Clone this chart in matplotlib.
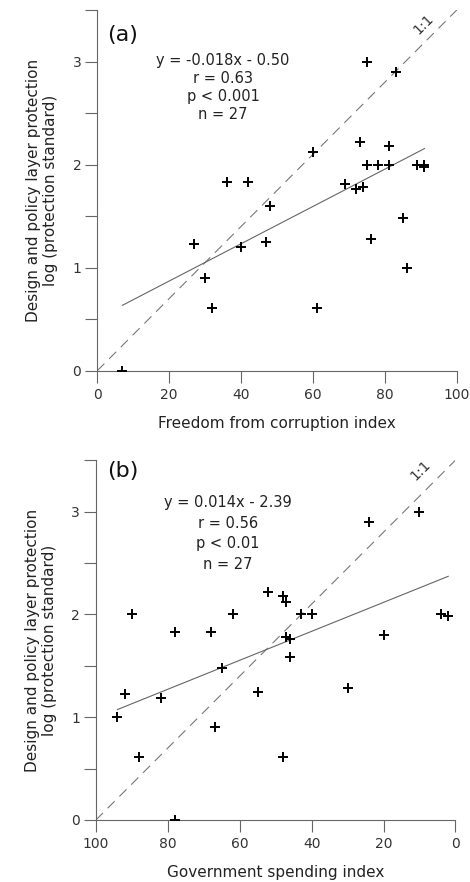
import numpy as np
from matplotlib import pyplot as plt

# panel (a): freedom from corruption index vs log protection standard
corr_x = [75, 83, 60, 73, 81, 75, 78, 81, 89, 91, 91, 36, 42, 69, 72, 74, 48,
          27, 40, 47, 85, 76, 86, 30, 32, 61, 7]
corr_y = [3.0, 2.9, 2.12, 2.22, 2.18, 2.0, 2.0, 2.0, 2.0, 2.0, 1.98, 1.83, 1.83,
          1.81, 1.76, 1.78, 1.6, 1.23, 1.2, 1.25, 1.48, 1.28, 1.0, 0.9, 0.61, 0.61, 0.0]
corr_fit = (0.0181, 0.508)
corr_stats = "y = -0.018x - 0.50\nr = 0.63\np < 0.001\nn = 27"

# panel (b): government spending index vs log protection standard
gov_x = [10, 24, 90, 62, 43, 40, 4, 2, 52, 48, 47, 78, 68, 47, 46, 20, 46, 65,
         92, 82, 55, 30, 94, 67, 88, 48, 78]
gov_y = [3.0, 2.9, 2.0, 2.0, 2.0, 2.0, 2.0, 1.98, 2.22, 2.18, 2.12, 1.83, 1.83,
         1.78, 1.76, 1.8, 1.59, 1.48, 1.23, 1.19, 1.25, 1.28, 1.0, 0.9, 0.61, 0.61, 0.0]
gov_fit = (-0.01409, 2.399)
gov_stats = "y = 0.014x - 2.39\nr = 0.56\np < 0.01\nn = 27"

ylabel = "Design and policy layer protection\nlog (protection standard)"

plt.rcParams['font.family'] = ['DejaVu Sans']

fig = plt.figure(figsize=(4.7, 8.82), dpi=100)
ax_a = fig.add_axes([0.207, 0.5797, 0.765, 0.409])
ax_b = fig.add_axes([0.204, 0.0703, 0.765, 0.4079])

grey = '#666666'


def panel(ax, xs, ys, fit, stats, letter, xlabel, reverse, stats_pos, letter_pos, oneone_pos, spacing):
    ax.set_ylim(0, 3.5)
    if reverse:
        ax.set_xlim(100, 0)
        ax.plot([100, 0], [0, 3.5], color='#777777', lw=0.8, dashes=(9, 6), zorder=1)
    else:
        ax.set_xlim(0, 100)
        ax.plot([0, 100], [0, 3.5], color='#777777', lw=0.8, dashes=(9, 6), zorder=1)
    xs = np.array(xs, dtype=float)
    xx = np.array([xs.min(), xs.max()])
    ax.plot(xx, fit[0] * xx + fit[1], color=grey, lw=0.8, zorder=2)
    ax.plot(xs, ys, '+', color='black', ms=7, mew=1.4, zorder=3)

    for s in ['top', 'right']:
        ax.spines[s].set_visible(False)
    for s in ['left', 'bottom']:
        ax.spines[s].set_color(grey)
        ax.spines[s].set_linewidth(0.8)
    ax.set_xticks(range(0, 101, 20))
    ax.set_yticks([0, 1, 2, 3])
    ax.set_yticks(np.arange(0, 3.51, 0.5), minor=True)
    ax.tick_params(which='both', direction='out', length=8.5, width=0.8, color=grey,
                   labelsize=10, labelcolor='#333333', pad=3)
    ax.tick_params(axis='x', pad=4)
    ax.set_xlabel(xlabel, fontsize=11, color='#222222', va='center')
    ax.xaxis.set_label_coords(0.5, -0.145)
    ax.set_ylabel(ylabel, fontsize=11, color='#222222', va='center', linespacing=1.2)
    ax.yaxis.set_label_coords(-0.153, 0.5)

    ax.text(letter_pos[0], letter_pos[1], letter, fontsize=16, ha='center', va='center', color='#111111')
    ax.text(stats_pos[0], stats_pos[1], stats, fontsize=10.5, ha='center', va='top',
            color='#222222', linespacing=spacing)
    ax.text(oneone_pos[0], oneone_pos[1], "1:1", fontsize=10, rotation=45,
            ha='center', va='center', color='#333333')


panel(ax_a, corr_x, corr_y, corr_fit, corr_stats, "(a)", "Freedom from corruption index",
      False, (35, 3.08), (7, 3.26), (90.8, 3.36), 1.24)
panel(ax_b, gov_x, gov_y, gov_fit, gov_stats, "(b)", "Government spending index",
      True, (63.3, 3.16), (92.4, 3.40), (9.8, 3.40), 1.46)

fig.savefig('out.png', dpi=100)
